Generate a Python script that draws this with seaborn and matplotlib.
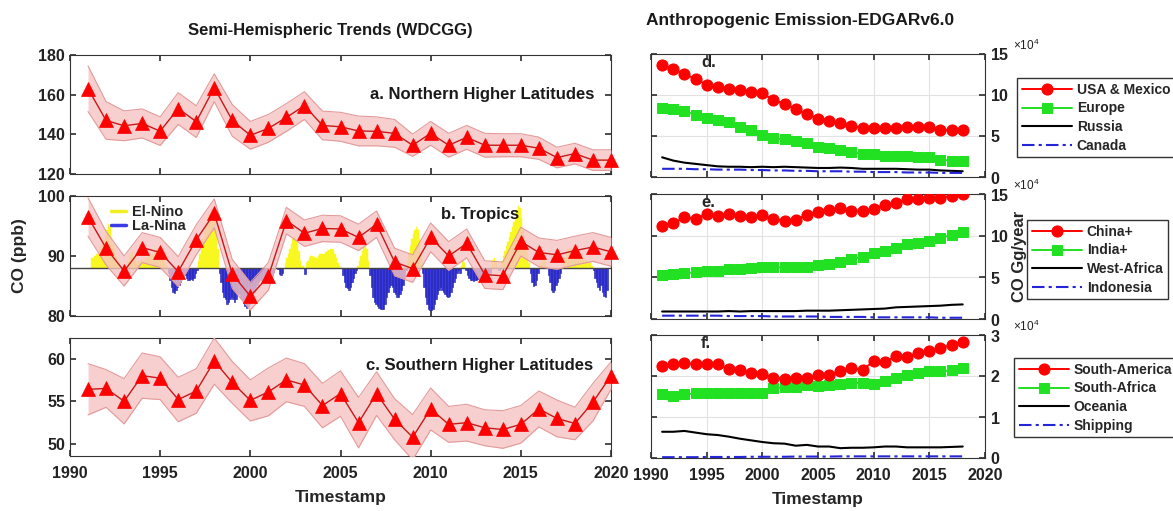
import numpy as np
import pandas as pd
import matplotlib
matplotlib.use("Agg")
import matplotlib.pyplot as plt
from matplotlib.lines import Line2D
from matplotlib.ticker import ScalarFormatter
import seaborn as sns

# ---------------- data ----------------
obs_years = list(range(1991, 2021))

nhl_co = [163, 147, 144.3, 145.5, 141.6, 153, 146.4, 163.5, 147, 139.5,
          143, 148.5, 154.5, 144.5, 143.8, 141.7, 141.5, 140.5, 134.5, 140.5,
          134.5, 138.5, 134.5, 134.5, 134.5, 133, 128.3, 130.3, 127, 127]
nhl_err = [11.5, 9.5, 7.5, 7.3, 7.2, 8, 8, 7, 8, 7,
           7, 7, 7, 7.2, 7.3, 7.5, 7.3, 7, 5.6, 6,
           6, 6, 6, 5.8, 5.8, 5.6, 5.2, 5.2, 5.2, 5.2]

trop_co = [96.5, 91.3, 87.5, 91.4, 90.6, 87.4, 92.7, 97.1, 87.0, 83.3,
           86.6, 95.9, 93.8, 94.6, 94.5, 93.1, 95.3, 89.0, 87.9, 93.1,
           90.0, 92.1, 86.9, 86.7, 92.4, 90.6, 90.2, 90.9, 91.5, 90.7]
trop_err = [3.2, 2.8, 2.5, 2.5, 2.5, 2.5, 2.5, 2.4, 2.4, 2.3,
            2.3, 2.2, 2.2, 2.2, 2.2, 2.2, 2.2, 2.3, 2.3, 2.4,
            2.4, 2.4, 2.3, 2.3, 2.4, 2.4, 2.4, 2.4, 2.4, 2.4]

shl_co = [56.4, 56.5, 55.0, 58.0, 57.7, 55.2, 56.2, 59.7, 57.2, 55.1,
          56.1, 57.5, 56.9, 54.5, 55.9, 52.5, 55.9, 52.9, 50.8, 54.1,
          52.3, 52.5, 51.9, 51.7, 52.3, 54.1, 53.0, 52.4, 54.9, 58.0]
shl_err = [3.0, 2.2, 2.65, 2.65, 2.5, 2.6, 2.6, 2.7, 2.45, 2.4,
           2.8, 2.55, 2.5, 2.6, 2.65, 2.95, 2.55, 2.4, 2.65, 2.45,
           2.1, 2.15, 2.1, 2.2, 2.2, 2.1, 2.15, 1.9, 2.2, 1.6]

# monthly ENSO index, one row per year (1991-2019)
enso_start = 1991
enso_index = [
    [0.0, 0.0, 0.4, 0.4, 0.5, 0.6, 0.6, 0.7, 0.9, 1.0, 1.2, 1.4],
    [1.6, 1.85, 1.7, 1.3, 1.0, 0.8, 0.5, 0.3, 0.25, 0.1, -0.1, -0.25],
    [-0.2, 0.0, 0.3, 0.5, 0.6, 0.7, 0.5, 0.3, 0.2, 0.3, 0.3, 0.4],
    [0.3, 0.3, 0.4, 0.4, 0.5, 0.5, 0.6, 0.6, 0.7, 0.8, 0.85, 0.7],
    [0.6, 0.4, 0.3, 0.2, 0.1, -0.2, -0.5, -0.8, -1.0, -1.05, -0.9, -0.8],
    [-0.7, -0.6, -0.4, -0.3, -0.3, -0.4, -0.5, -0.5, -0.45, -0.5, -0.4, -0.2],
    [-0.1, 0.3, 0.6, 0.9, 1.2, 1.5, 1.8, 2.0, 2.2, 2.3, 2.4, 2.35],
    [2.2, 1.6, 0.8, -0.2, -0.6, -1.0, -1.2, -1.3, -1.5, -1.4, -1.3, -1.2],
    [-1.3, -1.4, -1.3, -1.0, -1.1, -1.2, -1.3, -1.45, -1.6, -1.65, -1.6, -1.5],
    [-1.4, -1.2, -1.0, -0.8, -0.7, -0.6, -0.5, -0.5, -0.6, -0.6, -0.55, -0.5],
    [-0.5, -0.45, -0.3, -0.15, 0.0, 0.0, -0.05, -0.25, -0.3, -0.2, 0.0, 0.2],
    [0.4, 0.6, 0.8, 1.0, 1.2, 1.3, 1.2, 1.0, 0.7, 0.3, 0.1, 0.1],
    [-0.25, 0.2, 0.3, 0.4, 0.5, 0.5, 0.45, 0.4, 0.4, 0.5, 0.6, 0.6],
    [0.6, 0.6, 0.65, 0.7, 0.75, 0.8, 0.8, 0.75, 0.6, 0.4, 0.2, 0.1],
    [0.05, -0.3, -0.6, -0.8, -0.85, -0.9, -0.8, -0.6, -0.4, -0.2, -0.1, 0.1],
    [0.3, 0.5, 0.7, 0.9, 1.0, 0.8, 0.3, -0.3, -0.8, -1.2, -1.4, -1.5],
    [-1.6, -1.65, -1.7, -1.7, -1.7, -1.5, -1.2, -1.0, -0.8, -0.7, -0.8, -1.0],
    [-1.1, -1.2, -1.2, -1.1, -0.9, -0.7, -0.4, -0.1, 0.3, 0.6, 0.9, 1.2],
    [1.4, 1.6, 1.7, 1.6, 1.2, 0.6, -0.2, -0.8, -1.2, -1.5, -1.7, -1.75],
    [-1.75, -1.7, -1.5, -1.3, -1.1, -0.9, -0.8, -0.9, -1.0, -1.1, -1.15, -1.2],
    [-1.15, -1.0, -0.8, -0.6, -0.4, -0.2, -0.1, -0.2, 0.1, 0.35, 0.2, -0.1],
    [-0.3, -0.4, -0.5, -0.5, -0.55, -0.5, -0.5, -0.45, -0.5, -0.55, -0.5, -0.4],
    [-0.4, -0.3, -0.3, -0.2, 0.1, 0.35, 0.4, 0.3, 0.1, -0.1, 0.1, 0.3],
    [0.5, 0.7, 0.9, 1.1, 1.3, 1.5, 1.7, 1.9, 2.1, 2.4, 2.6, 2.5],
    [2.1, 1.6, 1.2, 0.8, 0.5, 0.2, -0.2, -0.6, -0.75, -0.7, -0.5, -0.2],
    [0.1, 0.2, 0.35, 0.4, 0.3, 0.1, -0.3, -0.6, -0.9, -1.0, -0.9, -0.7],
    [-0.6, -0.4, -0.2, 0.0, 0.2, 0.4, 0.6, 0.8, 0.85, 0.8, 0.7, 0.6],
    [0.6, 0.5, 0.5, 0.45, 0.4, 0.4, 0.35, 0.35, 0.3, 0.3, 0.2, 0.1],
    [-0.1, -0.4, -0.6, -0.8, -0.9, -0.7, -1.0, -1.15, -1.2, -0.9, 0.0, 0.0],
]
enso_baseline = 88.0   # ppb level of the ENSO zero line
enso_scale = 4.0       # ppb per index unit

emis_years = list(range(1991, 2019))

usa_mexico = [136000, 132000, 125000, 120000, 112500, 110000, 107000, 106000, 104000, 102000,
              94000, 89000, 82500, 77000, 71000, 68000, 65500, 62500, 60000, 60000,
              60000, 60000, 61000, 61500, 61000, 57500, 57500, 57500]
europe = [84000, 82500, 80000, 76000, 72000, 69500, 66500, 61500, 57000, 51000,
          47000, 46000, 44000, 41000, 37000, 35000, 32500, 30500, 28000, 28000,
          26000, 25000, 25000, 24000, 24000, 21000, 20000, 19000]
russia = [24000, 20000, 17500, 16000, 14500, 13000, 12500, 12500, 12000, 12500,
          12000, 12500, 12000, 11500, 11000, 11000, 11500, 11000, 10000, 10000,
          10000, 10000, 9500, 9000, 9000, 8000, 7500, 7000]
canada = [10000, 10000, 10000, 9500, 9500, 9000, 9000, 9000, 8500, 8500,
          8000, 8000, 7500, 7500, 7000, 7000, 7000, 6500, 6500, 6000,
          6000, 6000, 5500, 5500, 5500, 5000, 5000, 5000]

china = [112000, 115000, 122000, 120000, 126000, 124000, 126000, 124000, 122000, 125000,
         120000, 118000, 119000, 125000, 129000, 131000, 133000, 130000, 130000, 132000,
         137000, 139000, 143500, 143500, 145000, 145500, 147500, 149500]
india = [53000, 54000, 55000, 56000, 57500, 58000, 59500, 60000, 61500, 62000,
         62000, 62000, 63000, 63000, 64500, 66500, 68500, 72000, 74500, 79000,
         81500, 85500, 90000, 91000, 94000, 97000, 101000, 104000]
west_africa = [9000, 9000, 9000, 9000, 9000, 9000, 9500, 9000, 9500, 9500,
               9500, 9500, 9500, 10000, 10000, 10000, 10500, 11000, 11500, 12000,
               12500, 14000, 14500, 15000, 15500, 16000, 17000, 17500]
indonesia = [4000, 4000, 4000, 4000, 4000, 4000, 3500, 3500, 3500, 3500,
             3000, 3000, 3000, 3000, 3000, 2500, 2500, 2500, 2500, 2000,
             2000, 2000, 2000, 2000, 2000, 1500, 1500, 1500]

south_america = [22500, 23000, 23100, 23000, 23000, 23000, 21700, 21400, 20800, 20600,
                 19600, 19200, 19400, 19400, 20300, 20200, 21100, 21900, 21500, 23600,
                 23400, 24800, 24700, 25500, 26100, 26800, 27600, 28200]
south_africa = [15500, 15200, 15500, 15800, 15900, 15900, 15900, 15900, 15900, 15900,
                17000, 17300, 17300, 17700, 17600, 17700, 18100, 18300, 18300, 18000,
                18700, 19600, 20300, 20700, 21100, 21100, 21400, 21900]
oceania = [6400, 6400, 6600, 6200, 5800, 5600, 5200, 4700, 4300, 3900,
           3600, 3500, 3000, 3200, 2800, 2800, 2400, 2500, 2500, 2600,
           2800, 2800, 2600, 2600, 2600, 2600, 2700, 2800]
shipping = [200, 200, 200, 200, 250, 250, 250, 250, 300, 300,
            300, 300, 350, 350, 350, 350, 400, 400, 400, 400,
            400, 400, 400, 400, 400, 400, 400, 400]

# ---------------- style ----------------
sns.set_theme(style="ticks")
plt.rcParams["font.family"] = ["Liberation Sans", "DejaVu Sans"]
plt.rcParams["font.weight"] = "bold"
plt.rcParams["axes.labelweight"] = "bold"
plt.rcParams["axes.edgecolor"] = "#333333"
plt.rcParams["axes.linewidth"] = 0.8
plt.rcParams["xtick.color"] = "#333333"
plt.rcParams["ytick.color"] = "#333333"
plt.rcParams["xtick.labelcolor"] = "#222222"
plt.rcParams["ytick.labelcolor"] = "#222222"
plt.rcParams["mathtext.default"] = "regular"

TICK_FS = 11.5
W, H = 1173, 511
fig = plt.figure(figsize=(W / 100, H / 100), dpi=100)


def px_axes(x0, y0, x1, y1):
    return fig.add_axes([x0 / W, 1 - y1 / H, (x1 - x0) / W, (y1 - y0) / H])


ax_a = px_axes(70, 55, 611, 174)
ax_b = px_axes(70, 196, 611, 316)
ax_c = px_axes(70, 338, 611, 456)
ax_d = px_axes(651, 54, 985, 177)
ax_e = px_axes(651, 194, 985, 319)
ax_f = px_axes(651, 335, 985, 458)

BAND = "#f6c4c4"
BAND_EDGE = "#e39a9a"


def trend_panel(ax, co, err, ylim, yticks):
    co = np.asarray(co)
    err = np.asarray(err)
    lo, hi = co - err, co + err
    ax.fill_between(obs_years, lo, hi, color=BAND, alpha=0.8, lw=0, zorder=3)
    ax.plot(obs_years, lo, color=BAND_EDGE, lw=0.8, zorder=3)
    ax.plot(obs_years, hi, color=BAND_EDGE, lw=0.8, zorder=3)
    sns.lineplot(x=obs_years, y=co, ax=ax, color="#c81818", lw=1.0,
                 marker="^", markersize=10, markerfacecolor="#ff0000",
                 markeredgecolor="#ff0000", markeredgewidth=0.5,
                 zorder=5, clip_on=False)
    ax.set_xlim(1990, 2020)
    ax.set_ylim(*ylim)
    ax.set_yticks(yticks)
    ax.set_xticks(range(1990, 2021, 5))
    ax.tick_params(direction="in", length=4, top=True, right=True,
                   labelsize=TICK_FS, labelbottom=False)
    ax.tick_params(axis="x", pad=7)
    ax.set_xlabel("")
    ax.set_ylabel("")
    for s in ax.spines.values():
        s.set_visible(True)


trend_panel(ax_a, nhl_co, nhl_err, (120, 180), [120, 140, 160, 180])
trend_panel(ax_b, trop_co, trop_err, (80, 100), [80, 90, 100])
trend_panel(ax_c, shl_co, shl_err, (48.6, 62.4), [50, 55, 60])

# ENSO bars in the tropics panel
enso = pd.DataFrame(
    [(enso_start + i + (m + 0.5) / 12, v) for i, row in enumerate(enso_index)
     for m, v in enumerate(row)], columns=["t", "idx"])
pos = enso[enso.idx > 0]
neg = enso[enso.idx < 0]
ax_b.bar(pos.t, pos.idx * enso_scale, bottom=enso_baseline, width=1 / 12,
         color="#f8f820", edgecolor="#f8f820", lw=0.3, zorder=2)
ax_b.bar(neg.t, neg.idx * enso_scale, bottom=enso_baseline, width=1 / 12,
         color="#3a3ae6", edgecolor="#1a1aa8", lw=0.4, zorder=2)
ax_b.axhline(enso_baseline, color="#444444", lw=1.0, zorder=2.5)
ax_b.legend([Line2D([], [], color="#f0f020", lw=2.5),
             Line2D([], [], color="#3a3ae6", lw=2.5)],
            ["El-Nino", "La-Nina"], loc="upper left", frameon=False,
            bbox_to_anchor=(0.06, 1.0), handlelength=1.0, handletextpad=0.4,
            labelspacing=0.0, borderaxespad=0.2,
            prop={"size": 10.5, "weight": "bold"})

ax_c.tick_params(labelbottom=True)
ax_c.set_xlabel("Timestamp", fontsize=12.5, labelpad=7)
ax_b.set_ylabel("CO (ppb)", fontsize=12.5, labelpad=8)

lab_kw = dict(fontsize=12, weight="bold", color="#1a1a1a", va="center")
ax_a.text(0.555, 0.667, "a. Northern Higher Latitudes", transform=ax_a.transAxes, **lab_kw)
ax_b.text(0.686, 0.85, "b. Tropics", transform=ax_b.transAxes, **lab_kw)
ax_c.text(0.547, 0.77, "c. Southern Higher Latitudes", transform=ax_c.transAxes, **lab_kw)

# ---------------- emission panels ----------------
RED, GREEN, BLACK, BLUE = "#ff0000", "#22e022", "#000000", "#2424d8"


def emission_panel(ax, series, labels, ylim, yticks, letter, legend_xy):
    s1, s2, s3, s4 = series
    sns.lineplot(x=emis_years, y=s1, ax=ax, color=RED, lw=1.4, marker="o",
                 markersize=8, markerfacecolor=RED, markeredgecolor=RED,
                 label=labels[0], zorder=5)
    sns.lineplot(x=emis_years, y=s2, ax=ax, color=GREEN, lw=1.4, marker="s",
                 markersize=7, markerfacecolor=GREEN, markeredgecolor=GREEN,
                 label=labels[1], zorder=4)
    sns.lineplot(x=emis_years, y=s3, ax=ax, color=BLACK, lw=1.5,
                 label=labels[2], zorder=3)
    sns.lineplot(x=emis_years, y=s4, ax=ax, color=BLUE, lw=1.5,
                 linestyle=(0, (6, 2, 1.5, 2)), label=labels[3], zorder=3)
    ax.set_xlim(1990, 2020)
    ax.set_ylim(*ylim)
    ax.set_yticks(yticks)
    ax.set_xticks(range(1990, 2021, 5))
    ax.grid(True, color="#e2e2e2", lw=0.8)
    ax.set_axisbelow(True)
    fmt = ScalarFormatter(useMathText=True)
    fmt.set_powerlimits((4, 4))
    ax.yaxis.set_major_formatter(fmt)
    ax.yaxis.set_offset_position("right")
    off = ax.yaxis.get_offset_text()
    off.set_fontsize(8.5)
    off.set_fontweight("normal")
    off.set_horizontalalignment("left")
    off.set_x(1.085)
    ax.tick_params(direction="in", length=4, top=True, right=True, left=True,
                   labelleft=False, labelright=True, labelbottom=False,
                   labelsize=TICK_FS)
    ax.tick_params(axis="x", pad=7)
    ax.set_xlabel("")
    ax.set_ylabel("")
    for s in ax.spines.values():
        s.set_visible(True)
    ax.text(0.15, 0.93, letter, transform=ax.transAxes, fontsize=12,
            weight="bold", va="center")
    h, l = ax.get_legend_handles_labels()
    ax.legend(h, l, loc="upper left", bbox_to_anchor=legend_xy,
              bbox_transform=fig.transFigure, frameon=True, fancybox=False,
              edgecolor="#333333", framealpha=1, handlelength=3.6,
              handletextpad=0.35, labelspacing=0.33, borderpad=0.35,
              borderaxespad=0, prop={"size": 10, "weight": "bold"})


emission_panel(ax_d, [usa_mexico, europe, russia, canada],
               ["USA & Mexico", "Europe", "Russia", "Canada"],
               (0, 150000), [0, 50000, 100000, 150000], "d.",
               (1017 / W, 1 - 78 / H))
emission_panel(ax_e, [china, india, west_africa, indonesia],
               ["China+", "India+", "West-Africa", "Indonesia"],
               (0, 150000), [0, 50000, 100000, 150000], "e.",
               (1027 / W, 1 - 220 / H))
emission_panel(ax_f, [south_america, south_africa, oceania, shipping],
               ["South-America", "South-Africa", "Oceania", "Shipping"],
               (0, 30000), [0, 10000, 20000, 30000], "f.",
               (1014 / W, 1 - 358 / H))

ax_e.yaxis.set_label_position("right")
ax_e.set_ylabel("CO Gg/year", fontsize=12, labelpad=2)
ax_f.tick_params(labelbottom=True)
ax_f.set_xlabel("Timestamp", fontsize=12.5, labelpad=7)

fig.text(330 / W, 1 - 30 / H, "Semi-Hemispheric Trends (WDCGG)", ha="center",
         va="center", fontsize=12, weight="bold", color="#1a1a1a")
fig.text(800 / W, 1 - 21 / H, "Anthropogenic Emission-EDGARv6.0", ha="center",
         va="center", fontsize=12.5, weight="bold", color="#1a1a1a")

fig.savefig("out.png", dpi=100, facecolor="white")
